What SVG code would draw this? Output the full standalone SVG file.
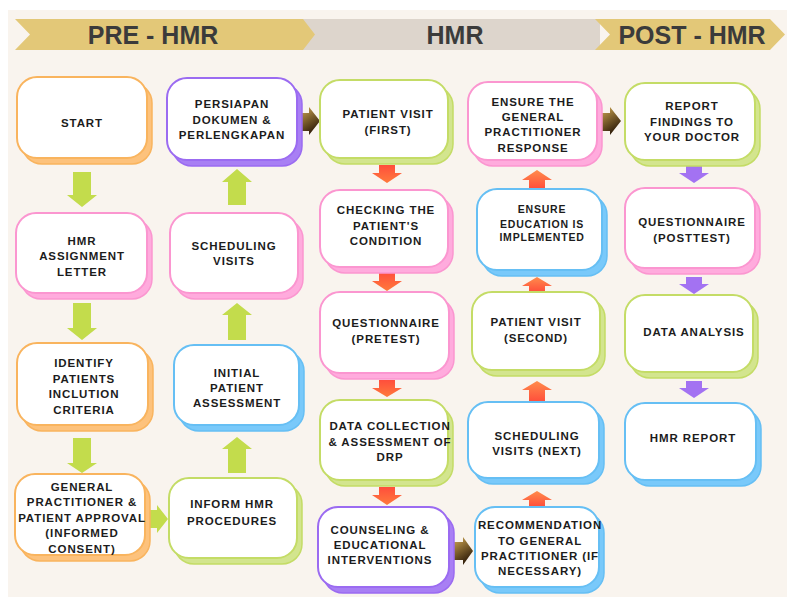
<svg xmlns="http://www.w3.org/2000/svg" width="787" height="597" viewBox="0 0 787 597">
<defs>
<linearGradient id="gBrown" x1="0" y1="0" x2="0.5" y2="1"><stop offset="0" stop-color="#d6ad55"/><stop offset="1" stop-color="#2e1b08"/></linearGradient>
<linearGradient id="gRedDown" x1="0" y1="0" x2="0" y2="1"><stop offset="0" stop-color="#ff4e3c"/><stop offset="1" stop-color="#ff7a3c"/></linearGradient>
<linearGradient id="gRedUp" x1="0" y1="0" x2="0" y2="1"><stop offset="0" stop-color="#ff8c4c"/><stop offset="1" stop-color="#ff4a3a"/></linearGradient>
<style>
.hdr{font-family:"Liberation Sans",Arial,sans-serif;font-weight:bold;font-size:25px;fill:#3b3b3b;text-anchor:middle}
.t{font-family:"Liberation Sans",Arial,sans-serif;font-weight:bold;font-size:11.5px;letter-spacing:0.9px;fill:#1c1c1c;text-anchor:middle}
.ts{font-size:10.5px;letter-spacing:0.8px}
.box{fill:#ffffff;stroke-width:2}
.or .sh{fill:#fdc27c;stroke:#f9b45e;stroke-width:1.5}
.or .box{stroke:#f9b45e}
.pk .sh{fill:#ffabdd;stroke:#fb96d0;stroke-width:1.5}
.pk .box{stroke:#fb96d0}
.pu .sh{fill:#a87ff4;stroke:#9b6bf1;stroke-width:1.5}
.pu .box{stroke:#9b6bf1}
.gr .sh{fill:#d3e58e;stroke:#c4dc66;stroke-width:1.5}
.gr .box{stroke:#c4dc66}
.bl .sh{fill:#79c9fa;stroke:#66bff4;stroke-width:1.5}
.bl .box{stroke:#66bff4}
.ag{fill:#c3dc4c}
.ab{fill:url(#gBrown)}
.ard{fill:url(#gRedDown)}
.aru{fill:url(#gRedUp)}
.ap{fill:#a372f2}
</style>
</defs>
<rect x="0" y="0" width="787" height="597" fill="#ffffff"/>
<rect x="8" y="10" width="779" height="587" fill="#f9f4ee"/>
<g id="header">
<rect x="300" y="19" width="300" height="31" fill="#ddd5cc"/>
<polygon points="15,19 303,19 315,34.5 303,50 15,50 30,34.5" fill="#e3c878"/>
<polygon points="595,19 770,19 785,34.5 770,50 595,50 610,34.5" fill="#e3c878"/>
<text class="hdr" x="153" y="44">PRE - HMR</text>
<text class="hdr" x="455" y="44">HMR</text>
<text class="hdr" x="692" y="44">POST - HMR</text>
</g>
<g id="connectors">
<path class="ag" d="M73,172H91V195H97L82,207L67,195H73Z"/>
<path class="ag" d="M73,303H91V328H97L82,340L67,328H73Z"/>
<path class="ag" d="M73,438H91V463H97L82,473L67,463H73Z"/>
<path class="ag" d="M237,169L252,182H246V205H228V182H222Z"/>
<path class="ag" d="M237,303L252,315H246V340H228V315H222Z"/>
<path class="ag" d="M237,437L252,449H246V473H228V449H222Z"/>
<path class="ag" d="M145,510H157V505L168,519L157,533V528H145Z"/>
<path class="ab" d="M299,113H309V107L320,121L309,135V131H299Z"/>
<path class="ab" d="M600,113H610V107L621,121L610,135V131H600Z"/>
<path class="ab" d="M453,542H463V537L473,551L463,565V560H453Z"/>
<path class="ard" d="M379,165H395V173H402L387,183L372,173H379Z"/>
<path class="ard" d="M379,272H395V281H402L387,291L372,281H379Z"/>
<path class="ard" d="M379,380H395V388H402L387,397L372,388H379Z"/>
<path class="ard" d="M379,487H395V495H402L387,505L372,495H379Z"/>
<path class="aru" d="M537,170L552,180H545V190H529V180H522Z"/>
<path class="aru" d="M537,277L552,286H545V293H529V286H522Z"/>
<path class="aru" d="M537,381L552,390H545V403H529V390H522Z"/>
<path class="aru" d="M537,491L552,500H545V508H529V500H522Z"/>
<path class="ap" d="M686,166H702V173H709L694,183L679,173H686Z"/>
<path class="ap" d="M686,277H702V284H709L694,294L679,284H686Z"/>
<path class="ap" d="M686,381H702V388H709L694,398L679,388H686Z"/>
</g>
<g id="start" class="or">
<rect class="sh" x="22" y="83" width="130" height="81" rx="20"/>
<rect class="box" x="17" y="77" width="130" height="81" rx="20"/>
<text class="t" x="82" y="127">START</text>
</g>
<g id="assignment" class="pk">
<rect class="sh" x="21" y="219" width="131" height="80" rx="20"/>
<rect class="box" x="16" y="213" width="131" height="80" rx="20"/>
<text class="t" x="82" y="245">HMR</text>
<text class="t" x="82" y="260">ASSIGNMENT</text>
<text class="t" x="82" y="276">LETTER</text>
</g>
<g id="identify" class="or">
<rect class="sh" x="22" y="349" width="131" height="82" rx="20"/>
<rect class="box" x="17" y="343" width="131" height="82" rx="20"/>
<text class="t" x="84" y="367">IDENTIFY</text>
<text class="t" x="84" y="383">PATIENTS</text>
<text class="t" x="84" y="398">INCLUTION</text>
<text class="t" x="84" y="414">CRITERIA</text>
</g>
<g id="approval" class="or">
<rect class="sh" x="20" y="480" width="130" height="81" rx="20"/>
<rect class="box" x="15" y="474" width="130" height="81" rx="20"/>
<text class="t" x="82" y="491">GENERAL</text>
<text class="t" x="82" y="506">PRACTITIONER &amp;</text>
<text class="t" x="82" y="522">PATIENT APPROVAL</text>
<text class="t" x="82" y="537">(INFORMED</text>
<text class="t" x="82" y="553">CONSENT)</text>
</g>
<g id="persiapan" class="pu">
<rect class="sh" x="172" y="84" width="130" height="82" rx="20"/>
<rect class="box" x="167" y="78" width="130" height="82" rx="20"/>
<text class="t" x="232" y="108">PERSIAPAN</text>
<text class="t" x="232" y="124">DOKUMEN &amp;</text>
<text class="t" x="232" y="139">PERLENGKAPAN</text>
</g>
<g id="scheduling" class="pk">
<rect class="sh" x="175" y="219" width="128" height="80" rx="20"/>
<rect class="box" x="170" y="213" width="128" height="80" rx="20"/>
<text class="t" x="234" y="250">SCHEDULING</text>
<text class="t" x="234" y="265">VISITS</text>
</g>
<g id="initial" class="bl">
<rect class="sh" x="179" y="351" width="125" height="80" rx="20"/>
<rect class="box" x="174" y="345" width="125" height="80" rx="20"/>
<text class="t" x="237" y="377">INITIAL</text>
<text class="t" x="237" y="392">PATIENT</text>
<text class="t" x="237" y="407">ASSESSMENT</text>
</g>
<g id="inform" class="gr">
<rect class="sh" x="174" y="484" width="128" height="80" rx="20"/>
<rect class="box" x="169" y="478" width="128" height="80" rx="20"/>
<text class="t" x="232" y="508">INFORM HMR</text>
<text class="t" x="232" y="525">PROCEDURES</text>
</g>
<g id="visit1" class="gr">
<rect class="sh" x="325" y="86" width="128" height="78" rx="20"/>
<rect class="box" x="320" y="80" width="128" height="78" rx="20"/>
<text class="t" x="388" y="118">PATIENT VISIT</text>
<text class="t" x="388" y="134">(FIRST)</text>
</g>
<g id="checking" class="pk">
<rect class="sh" x="325" y="196" width="128" height="77" rx="20"/>
<rect class="box" x="320" y="190" width="128" height="77" rx="20"/>
<text class="t" x="386" y="214">CHECKING THE</text>
<text class="t" x="386" y="230">PATIENT'S</text>
<text class="t" x="386" y="245">CONDITION</text>
</g>
<g id="pretest" class="pk">
<rect class="sh" x="325" y="298" width="129" height="81" rx="20"/>
<rect class="box" x="320" y="292" width="129" height="81" rx="20"/>
<text class="t" x="386" y="327">QUESTIONNAIRE</text>
<text class="t" x="386" y="343">(PRETEST)</text>
</g>
<g id="datacollection" class="gr">
<rect class="sh" x="325" y="406" width="128" height="80" rx="20"/>
<rect class="box" x="320" y="400" width="128" height="80" rx="20"/>
<text class="t" x="390" y="430">DATA COLLECTION</text>
<text class="t" x="390" y="446">&amp; ASSESSMENT OF</text>
<text class="t" x="390" y="461">DRP</text>
</g>
<g id="counseling" class="pu">
<rect class="sh" x="323" y="513" width="131" height="80" rx="20"/>
<rect class="box" x="318" y="507" width="131" height="80" rx="20"/>
<text class="t" x="380" y="534">COUNSELING &amp;</text>
<text class="t" x="380" y="549">EDUCATIONAL</text>
<text class="t" x="380" y="564">INTERVENTIONS</text>
</g>
<g id="ensuregp" class="pk">
<rect class="sh" x="473" y="88" width="129" height="78" rx="20"/>
<rect class="box" x="468" y="82" width="129" height="78" rx="20"/>
<text class="t" x="533" y="106">ENSURE THE</text>
<text class="t" x="533" y="121">GENERAL</text>
<text class="t" x="533" y="136">PRACTITIONER</text>
<text class="t" x="533" y="152">RESPONSE</text>
</g>
<g id="ensureedu" class="bl">
<rect class="sh" x="482" y="195" width="125" height="81" rx="20"/>
<rect class="box" x="477" y="189" width="125" height="81" rx="20"/>
<text class="t ts" x="542" y="213">ENSURE</text>
<text class="t ts" x="542" y="228">EDUCATION IS</text>
<text class="t ts" x="542" y="241">IMPLEMENTED</text>
</g>
<g id="visit2" class="gr">
<rect class="sh" x="477" y="298" width="128" height="78" rx="20"/>
<rect class="box" x="472" y="292" width="128" height="78" rx="20"/>
<text class="t" x="536" y="326">PATIENT VISIT</text>
<text class="t" x="536" y="342">(SECOND)</text>
</g>
<g id="schedulingnext" class="bl">
<rect class="sh" x="473" y="408" width="131" height="76" rx="20"/>
<rect class="box" x="468" y="402" width="131" height="76" rx="20"/>
<text class="t" x="537" y="440">SCHEDULING</text>
<text class="t" x="537" y="455">VISITS (NEXT)</text>
</g>
<g id="recommendation" class="bl">
<rect class="sh" x="480" y="513" width="124" height="80" rx="20"/>
<rect class="box" x="475" y="507" width="124" height="80" rx="20"/>
<text class="t" x="540" y="529">RECOMMENDATION</text>
<text class="t" x="540" y="545">TO GENERAL</text>
<text class="t" x="540" y="560">PRACTITIONER (IF</text>
<text class="t" x="540" y="575">NECESSARY)</text>
</g>
<g id="report" class="gr">
<rect class="sh" x="630" y="89" width="130" height="77" rx="20"/>
<rect class="box" x="625" y="83" width="130" height="77" rx="20"/>
<text class="t" x="692" y="110">REPORT</text>
<text class="t" x="692" y="126">FINDINGS TO</text>
<text class="t" x="692" y="141">YOUR DOCTOR</text>
</g>
<g id="posttest" class="pk">
<rect class="sh" x="630" y="194" width="130" height="80" rx="20"/>
<rect class="box" x="625" y="188" width="130" height="80" rx="20"/>
<text class="t" x="692" y="226">QUESTIONNAIRE</text>
<text class="t" x="692" y="242">(POSTTEST)</text>
</g>
<g id="analysis" class="gr">
<rect class="sh" x="630" y="301" width="128" height="77" rx="20"/>
<rect class="box" x="625" y="295" width="128" height="77" rx="20"/>
<text class="t" x="694" y="336">DATA ANALYSIS</text>
</g>
<g id="hmrreport" class="bl">
<rect class="sh" x="630" y="409" width="131" height="77" rx="20"/>
<rect class="box" x="625" y="403" width="131" height="77" rx="20"/>
<text class="t" x="693" y="442">HMR REPORT</text>
</g>
</svg>
